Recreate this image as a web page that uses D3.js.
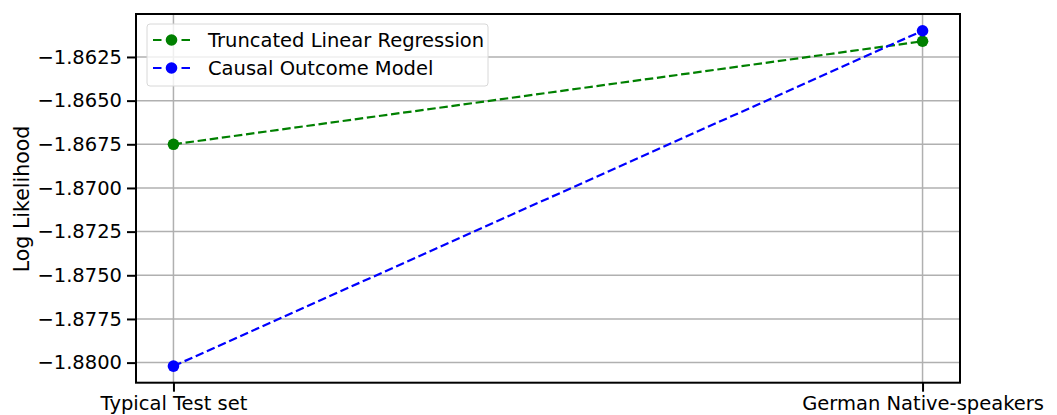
<!DOCTYPE html>
<html><head><meta charset="utf-8">
<script src="https://cdn.jsdelivr.net/npm/d3@7"></script>
<style>
html,body{margin:0;padding:0;background:#fff;}
text{font-family:"DejaVu Sans",sans-serif;}
</style></head>
<body>
<svg id="c" width="1057" height="415"></svg>
<script>
const categories = ["Typical Test set", "German Native-speakers"];
const truncatedValues = [-1.8675, -1.8616];
const causalValues = [-1.8802, -1.8610];
const seriesNames = ["Truncated Linear Regression", "Causal Outcome Model"];
const yTicks = [-1.8625, -1.8650, -1.8675, -1.8700, -1.8725, -1.8750, -1.8775, -1.8800];
const seriesColors = ["#008000", "#0000ff"];

const svg = d3.select("#c");
const L = 136, R = 960, T = 14, B = 382.7;
const x = d3.scaleLinear().domain([-0.05, 1.05]).range([L, R]);
const y = d3.scaleLinear().domain([-1.88115, -1.86004]).range([B, T]);

// grid
const g = svg.append("g");
g.selectAll(".hg").data(yTicks).enter().append("line")
  .attr("x1", L).attr("x2", R).attr("y1", d => y(d)).attr("y2", d => y(d))
  .attr("stroke", "#b0b0b0").attr("stroke-width", 1.5);
g.selectAll(".vg").data(categories).enter().append("line")
  .attr("x1", (d,i) => x(i)).attr("x2", (d,i) => x(i)).attr("y1", T).attr("y2", B)
  .attr("stroke", "#b0b0b0").attr("stroke-width", 1.5);

// axes
const yAxis = d3.axisLeft(y).tickValues(yTicks).tickSize(9).tickPadding(5)
  .tickFormat(d => d3.format(".4f")(d).replace("-", "\u2212"));
const ya = svg.append("g").attr("transform", `translate(${L},0)`).call(yAxis);
ya.select(".domain").remove();
ya.selectAll(".tick line").attr("stroke", "#000").attr("stroke-width", 2);
ya.selectAll(".tick text").attr("font-size", 19.5).attr("fill", "#000");

const xAxis = d3.axisBottom(x).tickValues([0, 1]).tickSize(9).tickPadding(4)
  .tickFormat(d => categories[d]);
const xa = svg.append("g").attr("transform", `translate(0,${B})`).call(xAxis);
xa.select(".domain").remove();
xa.selectAll(".tick line").attr("stroke", "#000").attr("stroke-width", 2);
xa.selectAll(".tick text").attr("font-size", 19.5).attr("fill", "#000");

// series
const allSeries = [truncatedValues, causalValues];
const line = d3.line().x((d,i) => x(i)).y(d => y(d));
allSeries.forEach((vals, si) => {
  svg.append("path").attr("d", line(vals)).attr("fill", "none")
    .attr("stroke", seriesColors[si]).attr("stroke-width", 2.2)
    .attr("stroke-dasharray", "8.5,3.7");
  svg.selectAll(".pt" + si).data(vals).enter().append("circle")
    .attr("cx", (d,i) => x(i)).attr("cy", d => y(d)).attr("r", 5.8)
    .attr("fill", seriesColors[si]);
});

// frame
svg.append("rect").attr("x", L).attr("y", T).attr("width", R - L).attr("height", B - T)
  .attr("fill", "none").attr("stroke", "#000").attr("stroke-width", 2);

// legend
const lg = svg.append("g");
lg.append("rect").attr("x", 147).attr("y", 24).attr("width", 341).attr("height", 62)
  .attr("rx", 3).attr("fill", "#fff").attr("fill-opacity", 0.8)
  .attr("stroke", "#d8d8d8").attr("stroke-width", 1);
seriesNames.forEach((name, i) => {
  const yy = 40 + i * 28;
  lg.append("line").attr("x1", 153).attr("x2", 190).attr("y1", yy).attr("y2", yy)
    .attr("stroke", seriesColors[i]).attr("stroke-width", 2.2).attr("stroke-dasharray", "8.5,20,8.5");
  lg.append("circle").attr("cx", 171.5).attr("cy", yy).attr("r", 5.8).attr("fill", seriesColors[i]);
  lg.append("text").attr("x", 208).attr("y", yy).attr("dy", "0.36em")
    .attr("font-size", 19.5).attr("fill", "#000").text(name);
});

// y label
svg.append("text").attr("transform", "translate(29,199) rotate(-90)")
  .attr("text-anchor", "middle").attr("font-size", 20.5).attr("fill", "#000").text("Log Likelihood");
</script>
</body></html>
